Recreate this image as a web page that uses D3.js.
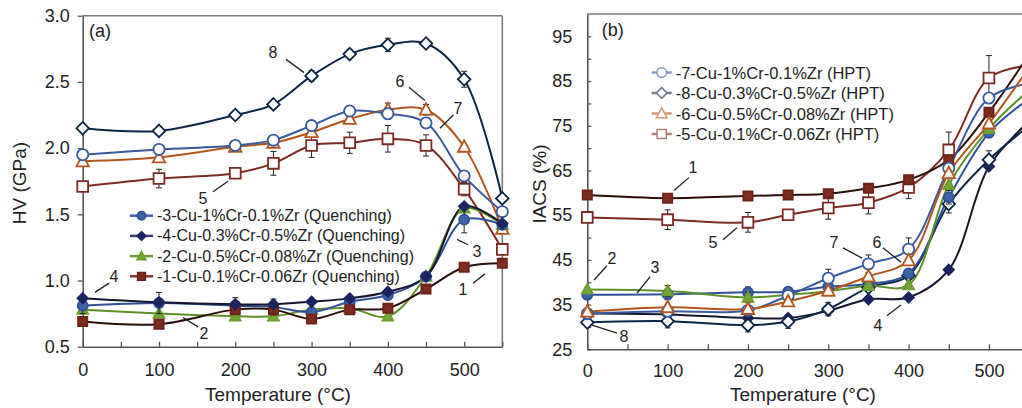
<!DOCTYPE html>
<html><head><meta charset="utf-8">
<script src="https://cdn.jsdelivr.net/npm/d3@7"></script>
<style>
body{margin:0;background:#fff}
svg{display:block}
text{font-family:"Liberation Sans",Arial,sans-serif;fill:#222}
</style>
</head><body>
<svg id="c" width="1022" height="408"></svg>
<script>
// ---------------- DATA ----------------
const temps = [0, 100, 200, 250, 300, 350, 400, 450, 500, 550];
const xTicks = [0, 50, 100, 150, 200, 250, 300, 350, 400, 450, 500, 550];
const xTickLabels = [0, 100, 200, 300, 400, 500];
const hvTicks = [0.5, 1.0, 1.5, 2.0, 2.5, 3.0];
const iacsTicks = [25, 30, 35, 40, 45, 50, 55, 60, 65, 70, 75, 80, 85, 90, 95];
const iacsTickLabels = [25, 35, 45, 55, 65, 75, 85, 95];

// (a) HV, GPa
const hv8 = [2.15, 2.13, 2.25, 2.33, 2.545, 2.71, 2.78, 2.79, 2.52, 1.62];
const hv7 = [1.95, 1.99, 2.02, 2.06, 2.17, 2.28, 2.26, 2.19, 1.79, 1.52];
const hv6 = [1.90, 1.93, 2.01, 2.04, 2.12, 2.22, 2.29, 2.29, 2.01, 1.39];
const hv5 = [1.71, 1.77, 1.81, 1.885, 2.02, 2.04, 2.07, 2.02, 1.69, 1.235];
const hv4 = [0.866, 0.835, 0.82, 0.82, 0.84, 0.865, 0.915, 1.03, 1.56, 1.43];
const hv3 = [0.81, 0.83, 0.81, 0.80, 0.76, 0.84, 0.89, 1.03, 1.46, 1.42];
const hv2 = [0.78, 0.75, 0.73, 0.73, 0.78, 0.79, 0.73, 1.03, 1.545, 1.42];
const hv1 = [0.69, 0.67, 0.78, 0.78, 0.71, 0.78, 0.79, 0.935, 1.10, 1.13];
// (a) error half-widths
const hv8Err = [0, 0, 0.03, 0.03, 0.04, 0.03, 0.05, 0.02, 0.06, 0];
const hv7Err = [0, 0, 0, 0, 0.03, 0, 0.04, 0, 0, 0];
const hv6Err = [0, 0, 0.02, 0.02, 0, 0, 0.05, 0.04, 0, 0];
const hv5Err = [0, 0.07, 0, 0.09, 0.09, 0.08, 0.1, 0.08, 0.05, 0];
const hv4Err = [0, 0, 0, 0, 0, 0, 0, 0, 0, 0];
const hv3Err = [0.06, 0.08, 0.06, 0.06, 0, 0, 0, 0, 0.1, 0];
const hv2Err = [0, 0, 0, 0, 0, 0, 0, 0, 0, 0];
const hv1Err = [0, 0, 0, 0, 0, 0, 0, 0, 0, 0];

// (b) IACS, %
const ia7 = [33.0, 33.5, 33.7, 37.0, 40.9, 44.1, 47.4, 65.5, 81.2, 84.5];
const ia8 = [31.0, 31.3, 30.4, 31.2, 34.0, 38.8, 41.5, 57.5, 67.4, 75];
const ia6 = [33.4, 34.4, 34.0, 35.7, 38.1, 41.3, 44.9, 64.4, 75.5, 88];
const ia5 = [54.5, 54.0, 53.4, 55.1, 56.6, 57.8, 61.2, 69.6, 85.7, 88.5];
const ia4 = [33.0, 32.8, 32.0, 32.0, 33.6, 36.2, 36.6, 42.8, 65.9, 76];
const ia3 = [37.2, 37.3, 37.75, 37.9, 39.0, 39.6, 42.0, 59.0, 73.4, 81];
const ia2 = [38.4, 38.05, 36.6, 37.2, 38.0, 39.2, 39.4, 61.8, 74.3, 83];
const ia1 = [59.5, 58.8, 59.3, 59.5, 59.8, 61.0, 62.9, 67.4, 78.0, 91];
const ia7Err = [0, 0, 0, 0, 2, 2, 2.5, 0, 0, 0];
const ia8Err = [0, 1.5, 1.5, 1.5, 1.5, 0, 0, 2, 2, 0];
const ia6Err = [0, 0, 0, 0, 0, 0, 0, 0, 0, 0];
const ia5Err = [0, 2.2, 2.2, 0, 2.5, 2.5, 2.5, 4, 5, 0];
const ia4Err = [0, 0, 0, 0, 0, 0, 0, 0, 0, 0];
const ia3Err = [0, 1.2, 1.2, 0, 0, 0, 0, 1.5, 0, 0];
const ia2Err = [0, 1.2, 1.2, 0, 0, 0, 0, 0, 0, 0];
const ia1Err = [0, 0, 0, 0, 0, 0, 0, 0, 0, 0];

const legendA = ["-3-Cu-1%Cr-0.1%Zr (Quenching)", "-4-Cu-0.3%Cr-0.5%Zr (Quenching)",
                 "-2-Cu-0.5%Cr-0.08%Zr (Quenching)", "-1-Cu-0.1%Cr-0.06Zr (Quenching)"];
const legendB = ["-7-Cu-1%Cr-0.1%Zr (HPT)", "-8-Cu-0.3%Cr-0.5%Zr (HPT)",
                 "-6-Cu-0.5%Cr-0.08%Zr (HPT)", "-5-Cu-0.1%Cr-0.06Zr (HPT)"];

// annotation labels (data coordinates): [label, textT, textV, lineT1, lineV1, lineT2, lineV2]
const annA = [
  ["8", 249.4, 2.72, 266.5, 2.67, 290.1, 2.57],
  ["6", 415.9, 2.50, 427.7, 2.46, 448.6, 2.36],
  ["7", 492.0, 2.30, 485.8, 2.25, 468.3, 2.15],
  ["5", 157.7, 1.62, 170.8, 1.67, 190.5, 1.75],
  ["4", 41.0, 1.03, 34.5, 0.98, 16.1, 0.91],
  ["2", 159.0, 0.60, 151.1, 0.65, 131.5, 0.72],
  ["3", 516.8, 1.22, 505.0, 1.27, 490.6, 1.31],
  ["1", 498.5, 0.93, 511.6, 0.98, 527.3, 1.05]
];
const annB = [
  ["1", 131.6, 65.6, 126.6, 63.4, 107.9, 60.5],
  ["5", 156.5, 48.8, 168.9, 49.5, 186.3, 52.2],
  ["2", 30.7, 45.4, 24.5, 43.7, 8.3, 40.5],
  ["3", 84.3, 43.2, 78.1, 41.2, 61.9, 37.6],
  ["8", 45.7, 27.8, 37.0, 28.6, 5.9, 30.4],
  ["7", 307.1, 48.8, 318.3, 47.7, 342.0, 45.4],
  ["6", 360.6, 48.8, 368.0, 47.7, 390.4, 44.5],
  ["4", 361.8, 30.4, 373.0, 32.5, 390.4, 34.9]
];

// ---------------- STYLES ----------------
const sty = {
  s8: {line: "#0e2646", stroke: "#0e2646", fill: "#fff", shape: "diamond", r: 6.3, lw: 2},
  s7: {line: "#3a5a9c", stroke: "#3a5a9c", fill: "#fff", shape: "circle", r: 5.6, lw: 2},
  s6: {line: "#b3561d", stroke: "#b3561d", fill: "#fff", shape: "triangle", r: 6.2, lw: 2},
  s5: {line: "#7a2c24", stroke: "#7a2c24", fill: "#fff", shape: "square", r: 5.4, lw: 2},
  s4: {line: "#15172e", stroke: "#1e2460", fill: "#1e2460", shape: "diamond", r: 5.2, lw: 2},
  s3: {line: "#2f5096", stroke: "#2f5096", fill: "#3d63aa", shape: "circle", r: 5, lw: 2},
  s2: {line: "#5f9126", stroke: "#6d9d30", fill: "#74a535", shape: "triangle", r: 5.4, lw: 2},
  s1: {line: "#2a0f0b", stroke: "#6e2219", fill: "#7e2b20", shape: "square", r: 4.6, lw: 2}
};
const legStyA = {
  s3: {line: "#3d63aa"}, s4: {line: "#3a3d7a"}, s2: {line: "#6d9d30"}, s1: {line: "#8a3a2e"}
};

function shapePath(type, r) {
  if (type === "circle") return `M${r},0A${r},${r} 0 1,1 ${-r},0A${r},${r} 0 1,1 ${r},0Z`;
  if (type === "square") return `M${-r},${-r}H${r}V${r}H${-r}Z`;
  if (type === "diamond") return `M0,${-r}L${r},0L0,${r}L${-r},0Z`;
  return `M0,${-r * 1.05}L${r},${r * 0.8}L${-r},${r * 0.8}Z`;
}

const svg = d3.select("#c");
const FONT = '"Liberation Sans",Arial,sans-serif';

function panel(cfg) {
  const g = svg.append("g");
  const x = d3.scaleLinear().domain([0, 550]).range(cfg.xRange);
  const y = d3.scaleLinear().domain(cfg.yDomain).range(cfg.yRange);
  const [x0, x1] = cfg.xRange, [yb, yt] = cfg.yRange;

  // frame
  g.append("line").attr("x1", x0).attr("x2", x1).attr("y1", yt).attr("y2", yt)
    .attr("stroke", "#7a7a7a").attr("stroke-width", 1.6);
  g.append("line").attr("x1", x1).attr("x2", x1).attr("y1", yt).attr("y2", yb)
    .attr("stroke", "#7a7a7a").attr("stroke-width", 1.6);

  // x axis
  const xa = d3.axisBottom(x).tickValues(xTicks).tickSizeInner(-5).tickSizeOuter(0)
    .tickPadding(cfg.xPad).tickFormat(d => xTickLabels.includes(d) ? d : "");
  const gx = g.append("g").attr("transform", `translate(0,${yb})`).call(xa);
  // y axis
  const ya = d3.axisLeft(y).tickValues(cfg.yTicks).tickSizeInner(cfg.yTickSize).tickSizeOuter(0)
    .tickPadding(cfg.yPad).tickFormat(cfg.yFmt);
  const gy = g.append("g").attr("transform", `translate(${x0},0)`).call(ya);
  [gx, gy].forEach(a => {
    a.select(".domain").attr("stroke", "#555").attr("stroke-width", 1.6);
    a.selectAll(".tick line").attr("stroke", "#555").attr("stroke-width", 1.3);
    a.selectAll(".tick text").attr("font-family", FONT).attr("font-size", 18).attr("fill", "#222");
  });

  // series
  const lineGen = d3.line().x((d, i) => x(temps[i])).y(d => y(d)).curve(d3.curveCatmullRom.alpha(0.5));
  const clipId = "clip" + cfg.id;
  g.append("clipPath").attr("id", clipId).append("rect")
    .attr("x", x0).attr("y", yt).attr("width", x1 - x0).attr("height", yb - yt);
  const lg0 = g.append("g").attr("clip-path", `url(#${clipId})`);
  const mg = g.append("g");
  cfg.series.forEach(s => {
    const st = sty[s.key];
    lg0.append("path").attr("d", lineGen(s.values)).attr("fill", "none")
      .attr("stroke", st.line).attr("stroke-width", st.lw);
  });
  cfg.series.forEach(s => {
    const st = sty[s.key];
    const eg = mg.append("g").attr("stroke", "#222").attr("stroke-width", 1);
    s.values.forEach((v, i) => {
      const e = s.err[i];
      if (!e) return;
      const cx = x(temps[i]);
      eg.append("line").attr("x1", cx).attr("x2", cx).attr("y1", y(v - e)).attr("y2", y(v + e));
      eg.append("line").attr("x1", cx - 3).attr("x2", cx + 3).attr("y1", y(v - e)).attr("y2", y(v - e));
      eg.append("line").attr("x1", cx - 3).attr("x2", cx + 3).attr("y1", y(v + e)).attr("y2", y(v + e));
    });
    mg.selectAll(null).data(s.values).enter().append("path")
      .attr("transform", (d, i) => `translate(${x(temps[i])},${y(d)})`)
      .attr("d", shapePath(st.shape, st.r))
      .attr("fill", st.fill).attr("stroke", st.stroke).attr("stroke-width", 1.8);
  });

  // annotations
  cfg.ann.forEach(a => {
    g.append("line").attr("x1", x(a[3])).attr("y1", y(a[4])).attr("x2", x(a[5])).attr("y2", y(a[6]))
      .attr("stroke", "#222").attr("stroke-width", 1.3);
    g.append("text").attr("x", x(a[1])).attr("y", y(a[2])).attr("text-anchor", "middle")
      .attr("dominant-baseline", "central").attr("font-size", 16).text(a[0]);
  });

  // panel tag
  g.append("text").attr("x", cfg.tag[1]).attr("y", cfg.tag[2]).attr("font-size", 18).text(cfg.tag[0]);
  // axis titles
  g.append("text").attr("x", cfg.xTitleX).attr("y", 401).attr("text-anchor", "middle")
    .attr("font-size", 19).text("Temperature (°C)");
  g.append("text").attr("transform", `translate(${cfg.yTitleX},${cfg.yTitleY}) rotate(-90)`)
    .attr("text-anchor", "middle").attr("dominant-baseline", "central")
    .attr("font-size", 19).text(cfg.yTitle);

  // legend
  const lg = g.append("g");
  cfg.legend.forEach((L, i) => {
    const yy = cfg.legY + i * cfg.legStep;
    const st = sty[L.key];
    const sym = lg.append("g").attr("opacity", cfg.legOpacity);
    sym.append("line").attr("x1", cfg.legX).attr("x2", cfg.legX + cfg.legLen).attr("y1", yy).attr("y2", yy)
      .attr("stroke", L.line || st.line).attr("stroke-width", 2.5);
    sym.append("path").attr("transform", `translate(${cfg.legX + cfg.legLen / 2},${yy})`)
      .attr("d", shapePath(st.shape, st.r * 0.85)).attr("fill", st.fill).attr("stroke", st.stroke)
      .attr("stroke-width", 1.5);
    lg.append("text").attr("x", cfg.legX + cfg.legLen + 4).attr("y", yy).attr("dominant-baseline", "central")
      .attr("font-size", cfg.legFont).text(L.label);
  });
}

panel({
  id: "a", xRange: [82.7, 502.3], yDomain: [0.5, 3.0], yRange: [346.7, 15.7],
  yTicks: hvTicks, yTickSize: 5, yPad: 8, yFmt: d3.format(".1f"), xPad: 17,
  series: [
    {key: "s5", values: hv5, err: hv5Err}, {key: "s6", values: hv6, err: hv6Err},
    {key: "s7", values: hv7, err: hv7Err}, {key: "s8", values: hv8, err: hv8Err},
    {key: "s2", values: hv2, err: hv2Err}, {key: "s3", values: hv3, err: hv3Err},
    {key: "s1", values: hv1, err: hv1Err}, {key: "s4", values: hv4, err: hv4Err}
  ],
  ann: annA, tag: ["(a)", 89, 37], xTitleX: 278, yTitleX: 19, yTitleY: 183, yTitle: "HV (GPa)",
  legend: [
    {key: "s3", label: legendA[0], line: legStyA.s3.line}, {key: "s4", label: legendA[1], line: legStyA.s4.line},
    {key: "s2", label: legendA[2], line: legStyA.s2.line}, {key: "s1", label: legendA[3], line: legStyA.s1.line}
  ],
  legX: 130, legLen: 23, legY: 215.7, legStep: 20.2, legOpacity: 1, legFont: 16
});

panel({
  id: "b", xRange: [587.3, 1029.1], yDomain: [25, 100], yRange: [349.3, 14],
  yTicks: iacsTicks, yTickSize: -4, yPad: 15, yFmt: d => iacsTickLabels.includes(d) ? d : "", xPad: 14.5,
  series: [
    {key: "s5", values: ia5, err: ia5Err}, {key: "s1", values: ia1, err: ia1Err},
    {key: "s4", values: ia4, err: ia4Err}, {key: "s8", values: ia8, err: ia8Err},
    {key: "s3", values: ia3, err: ia3Err}, {key: "s2", values: ia2, err: ia2Err},
    {key: "s7", values: ia7, err: ia7Err}, {key: "s6", values: ia6, err: ia6Err}
  ],
  ann: annB, tag: ["(b)", 601.7, 36], xTitleX: 803, yTitleX: 539, yTitleY: 184, yTitle: "IACS (%)",
  legend: [
    {key: "s7", label: legendB[0]}, {key: "s8", label: legendB[1]},
    {key: "s6", label: legendB[2]}, {key: "s5", label: legendB[3]}
  ],
  legX: 651.7, legLen: 20, legY: 72.5, legStep: 20.5, legOpacity: 0.6, legFont: 16.5
});
</script>
</body></html>
